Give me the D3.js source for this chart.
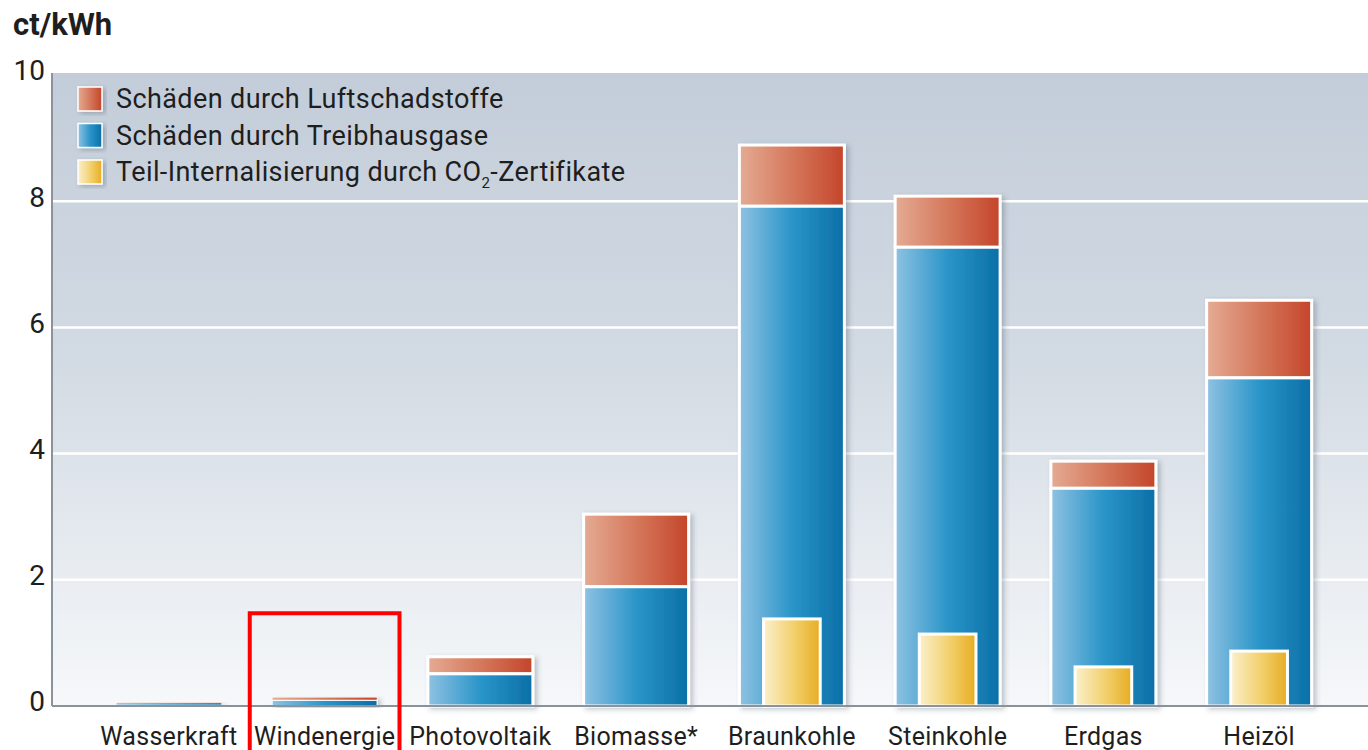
<!DOCTYPE html>
<html>
<head>
  <meta charset="utf-8">
  <title>Externe Kosten der Stromerzeugung</title>
  <script src="https://d3js.org/d3.v7.min.js"></script>
  <style>
    body { margin: 0; background: #ffffff; }
    svg { display: block; font-family: Roboto, 'Noto Sans', sans-serif; }
    .tick-label { font-size: 28px; fill: #1e1e1e; }
    .cat-label { font-size: 25px; fill: #1e1e1e; letter-spacing: 0.3px; }
    .legend-text { font-size: 27px; fill: #1e1e1e; letter-spacing: 0.4px; }
    .title { font-size: 31px; font-weight: bold; fill: #1e1e1e; }
  </style>
</head>
<body>
  <div id="chart"></div>
  <script>
    // Kategorien und Werte (ct/kWh)
    const categories = ["Wasserkraft", "Windenergie", "Photovoltaik", "Biomasse*", "Braunkohle", "Steinkohle", "Erdgas", "Heizöl"];
    const treibhausgase = [0.03, 0.09, 0.51, 1.89, 7.92, 7.27, 3.45, 5.20];
    const luftschadstoffe = [0.02, 0.05, 0.27, 1.15, 0.97, 0.81, 0.43, 1.23];
    const co2Zertifikate = [0, 0, 0, 0, 1.38, 1.14, 0.62, 0.87];
    const yTicks = [0, 2, 4, 6, 8, 10];
    const highlighted = "Windenergie";

    const width = 1368, height = 750;
    const plot = { left: 52, right: 1368, top: 73, bottom: 706 };

    const svg = d3.select("#chart").append("svg")
      .attr("width", width)
      .attr("height", height);

    const defs = svg.append("defs");

    // horizontal gradients for the bars
    function hGradient(id, stops) {
      const g = defs.append("linearGradient").attr("id", id)
        .attr("x1", "0%").attr("x2", "100%").attr("y1", "0%").attr("y2", "0%");
      stops.forEach(s => g.append("stop").attr("offset", s[0]).attr("stop-color", s[1]));
    }
    hGradient("gRed", [["0%", "#e4ab93"], ["50%", "#d5785c"], ["100%", "#c4452a"]]);
    hGradient("gBlue", [["0%", "#8fc2e2"], ["50%", "#2a95c9"], ["100%", "#0a6fa6"]]);
    hGradient("gYellow", [["0%", "#fbf0cd"], ["55%", "#f2cf6a"], ["100%", "#e6ad22"]]);

    const bg = defs.append("linearGradient").attr("id", "gBg")
      .attr("x1", "0%").attr("x2", "0%").attr("y1", "0%").attr("y2", "100%");
    bg.append("stop").attr("offset", "0%").attr("stop-color", "#c3cdd9");
    bg.append("stop").attr("offset", "45%").attr("stop-color", "#d2dae3");
    bg.append("stop").attr("offset", "100%").attr("stop-color", "#f6f8fa");

    const shadow = defs.append("filter").attr("id", "shadow")
      .attr("x", "-10%").attr("y", "-10%").attr("width", "130%").attr("height", "130%");
    shadow.append("feDropShadow").attr("dx", 3).attr("dy", 2).attr("stdDeviation", 2.5)
      .attr("flood-color", "#3a4a5a").attr("flood-opacity", 0.3);

    // scales
    const x = d3.scaleBand()
      .domain(categories)
      .range([91, 1337])
      .paddingInner(0.326)
      .paddingOuter(0.163);

    const y = d3.scaleLinear().domain([0, 10]).range([plot.bottom, 75]);

    // plot background
    svg.append("rect")
      .attr("x", plot.left).attr("y", plot.top)
      .attr("width", plot.right - plot.left).attr("height", plot.bottom - plot.top)
      .attr("fill", "url(#gBg)");

    // white gridlines
    svg.append("g").selectAll("line")
      .data(yTicks.filter(t => t > 0 && t < 10))
      .join("line")
      .attr("x1", plot.left).attr("x2", plot.right)
      .attr("y1", d => y(d)).attr("y2", d => y(d))
      .attr("stroke", "#ffffff").attr("stroke-width", 2.5);

    // y tick labels
    svg.append("g").selectAll("text")
      .data(yTicks)
      .join("text")
      .attr("class", "tick-label")
      .attr("x", 45)
      .attr("y", d => y(d) - 2)
      .attr("text-anchor", "end")
      .attr("dominant-baseline", "middle")
      .text(d => d);

    // stacked bars
    const rows = categories.map((c, i) => ({
      cat: c,
      blue: treibhausgase[i],
      red: luftschadstoffe[i],
      yellow: co2Zertifikate[i]
    }));

    const bars = svg.append("g");
    const bw = x.bandwidth();

    function strokeFor(v) {
      const h = y(0) - y(v);
      return Math.min(3, h * 0.2);
    }

    const groups = bars.selectAll("g")
      .data(rows)
      .join("g")
      .attr("filter", "url(#shadow)");

    groups.append("rect")
      .attr("x", d => x(d.cat))
      .attr("y", d => y(d.blue + d.red))
      .attr("width", bw)
      .attr("height", d => y(d.blue) - y(d.blue + d.red))
      .attr("fill", "url(#gRed)")
      .attr("stroke", "#ffffff")
      .attr("stroke-width", d => strokeFor(d.red));

    groups.append("rect")
      .attr("x", d => x(d.cat))
      .attr("y", d => y(d.blue))
      .attr("width", bw)
      .attr("height", d => y(0) - y(d.blue))
      .attr("fill", "url(#gBlue)")
      .attr("stroke", "#ffffff")
      .attr("stroke-width", d => strokeFor(d.blue));

    const yw = bw * 0.54;
    groups.filter(d => d.yellow > 0).append("rect")
      .attr("x", d => x(d.cat) + (bw - yw) / 2)
      .attr("y", d => y(d.yellow))
      .attr("width", yw)
      .attr("height", d => y(0) - y(d.yellow))
      .attr("fill", "url(#gYellow)")
      .attr("stroke", "#ffffff")
      .attr("stroke-width", 3);

    // axes lines
    svg.append("line")
      .attr("x1", plot.left).attr("x2", plot.right)
      .attr("y1", plot.bottom).attr("y2", plot.bottom)
      .attr("stroke", "#8a939c").attr("stroke-width", 2);
    svg.append("line")
      .attr("x1", plot.left).attr("x2", plot.left)
      .attr("y1", plot.top).attr("y2", plot.bottom)
      .attr("stroke", "#8a939c").attr("stroke-width", 2);

    // category labels
    svg.append("g").selectAll("text")
      .data(categories)
      .join("text")
      .attr("class", "cat-label")
      .attr("x", d => x(d) + bw / 2)
      .attr("y", 745)
      .attr("text-anchor", "middle")
      .text(d => d);

    // title
    svg.append("text")
      .attr("class", "title")
      .attr("x", 13).attr("y", 35)
      .text("ct/kWh");

    // legend
    const legendItems = [
      { fill: "url(#gRed)", label: "Schäden durch Luftschadstoffe" },
      { fill: "url(#gBlue)", label: "Schäden durch Treibhausgase" },
      { fill: "url(#gYellow)", label: "Teil-Internalisierung durch CO" }
    ];
    const legend = svg.append("g").attr("transform", "translate(78, 99)");
    const li = legend.selectAll("g")
      .data(legendItems)
      .join("g")
      .attr("transform", (d, i) => `translate(0, ${i * 36.5})`);
    li.append("rect")
      .attr("x", 0).attr("y", -12)
      .attr("width", 24).attr("height", 24)
      .attr("fill", d => d.fill)
      .attr("stroke", "#ffffff").attr("stroke-width", 1.5)
      .attr("filter", "url(#shadow)");
    const lt = li.append("text")
      .attr("class", "legend-text")
      .attr("x", 38).attr("y", 9)
      .text(d => d.label);
    lt.filter((d, i) => i === 2).each(function () {
      const t = d3.select(this);
      t.append("tspan").attr("font-size", 15).attr("dy", 7).text("2");
      t.append("tspan").attr("dy", -7).text("-Zertifikate");
    });

    // red highlight frame around one category
    const step = x.step();
    svg.append("rect")
      .attr("x", x(highlighted) + bw / 2 - (step - 6) / 2)
      .attr("y", y(1.47))
      .attr("width", step - 6)
      .attr("height", 160)
      .attr("fill", "none")
      .attr("stroke", "#ff0000")
      .attr("stroke-width", 4);
  </script>
</body>
</html>
